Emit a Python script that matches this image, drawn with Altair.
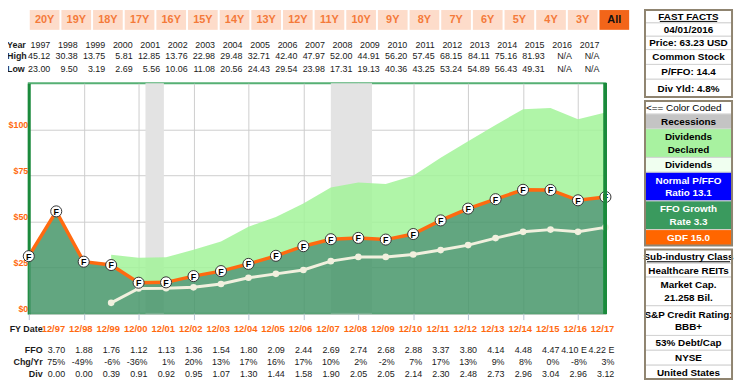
import altair as alt
import pandas as pd

# ---------------- data ----------------
years = list(range(1996, 2018))            # fiscal year ends 12/96 .. 12/17
fy_labels = ["12/97", "12/98", "12/99", "12/00", "12/01", "12/02", "12/03", "12/04",
             "12/05", "12/06", "12/07", "12/08", "12/09", "12/10", "12/11", "12/12",
             "12/13", "12/14", "12/15", "12/16", "12/17"]
# orange GDF line (FFO x 15), one value per fiscal year 1996..2017
ffo_line = [31.2, 55.5, 28.2, 26.4, 16.8, 17.0, 20.4, 23.1, 27.0, 31.4, 36.6,
            40.4, 41.1, 40.2, 43.2, 50.6, 57.0, 62.1, 67.2, 67.1, 61.5, 63.3]
# light green "dividends declared" top edge, 1999..2017
declared_top = [32.0, 30.4, 30.6, 34.7, 39.2, 47.2, 52.5, 59.7, 68.5, 71.2,
                70.3, 74.8, 84.6, 93.5, 102.4, 110.9, 111.6, 105.4, 109.1]
# white dividends line, 1999..2017
div_line = [5.9, 13.7, 13.8, 14.3, 16.1, 19.5, 21.6, 23.7, 28.5, 30.8,
            30.8, 32.1, 34.5, 37.2, 41.0, 44.4, 45.6, 44.4, 46.8]
# recessions (in fiscal-year-end units: Dec of year Y == Y)
rec_start = [2000.25, 2007.0]
rec_end = [2000.92, 2008.5]

tbl_years = [str(y) for y in range(1997, 2018)]
tbl_high = ["45.12", "30.38", "13.75", "5.81", "12.85", "13.76", "22.98", "29.48", "32.71",
            "42.40", "47.97", "52.00", "44.91", "56.20", "57.45", "68.15", "84.11", "75.16",
            "81.93", "N/A", "N/A"]
tbl_low = ["23.00", "9.50", "3.19", "2.69", "5.56", "10.06", "11.08", "20.56", "24.43",
           "29.54", "23.98", "17.31", "19.13", "40.36", "43.25", "53.24", "54.89", "56.43",
           "49.31", "N/A", "N/A"]
tbl_ffo = ["3.70", "1.88", "1.76", "1.12", "1.13", "1.36", "1.54", "1.80", "2.09", "2.44",
           "2.69", "2.74", "2.68", "2.88", "3.37", "3.80", "4.14", "4.48", "4.47", "4.10 E",
           "4.22 E"]
tbl_chg = ["75%", "-49%", "-6%", "-36%", "1%", "20%", "13%", "17%", "16%", "17%", "10%",
           "2%", "-2%", "7%", "17%", "13%", "9%", "8%", "0%", "-8%", "3%"]
tbl_div = ["0.00", "0.00", "0.39", "0.91", "0.92", "0.95", "1.07", "1.30", "1.44", "1.58",
           "1.90", "2.05", "2.05", "2.14", "2.30", "2.48", "2.73", "2.96", "3.04", "2.96",
           "3.12"]
buttons = ["20Y", "19Y", "18Y", "17Y", "16Y", "15Y", "14Y", "13Y", "12Y", "11Y", "10Y",
           "9Y", "8Y", "7Y", "6Y", "5Y", "4Y", "3Y", "All"]

# ---------------- tables for the library ----------------
main = pd.DataFrame({"year": years, "ffo": ffo_line})
main["top"] = [None] * 3 + declared_top
main["div"] = [None] * 3 + div_line
decl = main.dropna(subset=["top"])
divd = main.dropna(subset=["div"])
rec = pd.DataFrame({"s": rec_start, "e": rec_end})
tbl = pd.DataFrame({"year": list(range(1997, 2018)), "yr": tbl_years, "hi": tbl_high,
                    "lo": tbl_low, "fy": fy_labels, "ffo": tbl_ffo, "chg": tbl_chg,
                    "dv": tbl_div})

ORANGE = "#ff6a10"
FONT = "Liberation Sans"

xs = alt.Scale(domain=[1996, 2017], nice=False, zero=False)
ys = alt.Scale(domain=[0, 125], nice=False)
x_axis = alt.Axis(values=years, grid=True, gridColor="#cdcdcd", labels=False, ticks=True,
                  tickColor="#b4c2d2", tickSize=6, domain=False, title=None)
x_enc = alt.X("year:Q", scale=xs, axis=x_axis)
y_axis = alt.Axis(values=[0, 25, 50, 75, 100], grid=True, gridColor="#cdcdcd",
                  labelExpr="'$' + datum.value", labelColor=ORANGE, labelFont=FONT,
                  labelFontWeight="bold", labelFontSize=9, labelOffset=-5, labelPadding=1,
                  ticks=False, domain=True, domainColor="#1b8a3c", domainWidth=3, title=None)

base = alt.Chart(main)

recess = alt.Chart(rec).mark_rect(color="#e3e3e3").encode(
    x=alt.X("s:Q", scale=xs, axis=x_axis), x2="e:Q",
    y=alt.Y("y0:Q", scale=ys, axis=y_axis), y2="y1:Q"
).transform_calculate(y0="125", y1="0")

light = alt.Chart(decl).mark_area(color="#a2f399", opacity=0.85).encode(
    x=x_enc, y=alt.Y("top:Q", scale=ys, axis=y_axis), y2="ffo:Q")

dark = base.mark_area(color="#46966a", opacity=0.85).encode(
    x=x_enc, y=alt.Y("ffo:Q", scale=ys, axis=y_axis), y2=alt.datum(0))

orange_line = base.mark_line(color=ORANGE, strokeWidth=3.5).encode(
    x=x_enc, y=alt.Y("ffo:Q", scale=ys, axis=y_axis))

white_line = alt.Chart(divd).mark_line(color="#f1f0de", strokeWidth=3,
    point=alt.OverlayMarkDef(filled=True, color="#f1f0de", size=45)).encode(
    x=x_enc, y=alt.Y("div:Q", scale=ys, axis=y_axis))

f_pts = base.mark_point(filled=True, fill="white", stroke="#333333", strokeWidth=1,
                        size=125, opacity=1).encode(
    x=x_enc, y=alt.Y("ffo:Q", scale=ys, axis=y_axis))
f_txt = base.mark_text(text="F", font=FONT, fontWeight="bold", fontSize=9,
                       color="black", dy=0.5).encode(
    x=x_enc, y=alt.Y("ffo:Q", scale=ys, axis=y_axis))

right_border = alt.Chart(main).mark_rule(color="#1b8a3c", strokeWidth=3).encode(
    x=alt.datum(2017, scale=xs), y=alt.value(0), y2=alt.value(233))

layers = [recess, light, dark, orange_line, white_line, f_pts, f_txt, right_border]

# ---------------- top and bottom tables ----------------
def row(field, ypix, dx, color="#1a1a1a", weight="normal", size=9):
    return alt.Chart(tbl).mark_text(align="right", baseline="middle", font=FONT,
                                    fontSize=size, fontWeight=weight, color=color,
                                    dx=dx).encode(
        x=alt.X("year:Q", scale=xs), y=alt.value(ypix), text=f"{field}:N")

TY = [-38.5, -27, -14]
BY = [248.5, 270, 282, 294.5]
layers += [row("yr", TY[0], -6), row("hi", TY[1], -6), row("lo", TY[2], -6),
           row("fy", BY[0], 9, color=ORANGE, weight="bold", size=9.5),
           row("ffo", BY[1], 9), row("chg", BY[2], 9), row("dv", BY[3], 9)]

def label(txt, xpix, ypix, align):
    return alt.Chart(main).mark_text(align=align, baseline="middle", font=FONT,
                                     fontSize=9, fontWeight="bold", color="#1a1a1a",
                                     text=txt).encode(
        x=alt.value(xpix), y=alt.value(ypix)).transform_filter("datum.year == 1996")

layers += [label("Year", -22, TY[0], "left"), label("High", -22, TY[1], "left"),
           label("Low", -22, TY[2], "left"), label("FY Date", 14, BY[0], "right"),
           label("FFO", 14, BY[1], "right"), label("Chg/Yr", 14, BY[2], "right"),
           label("Div", 14, BY[3], "right")]

# ---------------- range buttons ----------------
btn = pd.DataFrame({"b": buttons})
btn["x0"] = [1 + 32 * k for k in range(len(buttons))]
btn["x1"] = btn["x0"] + 30
btn["xc"] = btn["x0"] + 15
btn["fill"] = ["#fddcca"] * (len(buttons) - 1) + ["#f26519"]
btn["tc"] = ["#f47a3a"] * (len(buttons) - 1) + ["#111111"]
layers.append(alt.Chart(btn).mark_rect().encode(
    x=alt.X("x0:Q", scale=None), x2="x1:Q", y=alt.value(-74), y2=alt.value(-54),
    fill=alt.Fill("fill:N", scale=None)))
layers.append(alt.Chart(btn).mark_text(font=FONT, fontSize=11, fontWeight="bold",
                                       baseline="middle").encode(
    x=alt.X("xc:Q", scale=None), y=alt.value(-63.5), text="b:N",
    color=alt.Color("tc:N", scale=None)))

# ---------------- right-hand panel ----------------
panel_rows = [
    ("FAST FACTS", -74, -61, "white", "black"),
    ("04/01/2016", -61, -47.5, "white", "black"),
    ("Price: 63.23 USD", -47.5, -34, "white", "black"),
    ("Common Stock", -34, -19, "white", "black"),
    ("P/FFO: 14.4", -19, -4, "white", "black"),
    ("Div Yld: 4.8%", -4, 14, "white", "black"),
    ("Recessions", 31, 46, "#c4c4c4", "black"),
    ("Dividends\nDeclared", 46, 75, "#a8f2a0", "black"),
    ("Dividends", 75, 90, "#f0fff0", "black"),
    ("Normal P/FFO\nRatio 13.1", 90, 119, "#0000ff", "white"),
    ("FFO Growth\nRate 3.3", 119, 148, "#3a9a5e", "white"),
    ("GDF 15.0", 148, 164, "#ff6600", "white"),
    ("Sub-industry Class", 168, 182, "white", "black"),
    ("Healthcare REITs", 182, 196, "white", "black"),
    ("Market Cap.\n21.258 Bil.", 196, 225, "white", "black"),
    ("S&P Credit Rating:\nBBB+", 225, 255, "white", "black"),
    ("53% Debt/Cap", 255, 270, "white", "black"),
    ("NYSE", 270, 285, "white", "black"),
    ("United States", 285, 299, "white", "black"),
]
LH = 13
pdf = pd.DataFrame(panel_rows, columns=["t", "y0", "y1", "fill", "tc"])
pdf["yc"] = [(a + b) / 2 + 0.5 - (t.count("\n")) * LH / 2
             for t, a, b in zip(pdf["t"], pdf["y0"], pdf["y1"])]
layers.append(alt.Chart(pdf).mark_rect(stroke="#d2d2d2", strokeWidth=1).encode(
    x=alt.value(623), x2=alt.value(711), y=alt.Y("y0:Q", scale=None), y2="y1:Q",
    fill=alt.Fill("fill:N", scale=None)))
layers.append(alt.Chart(pdf).mark_text(font=FONT, fontSize=10, fontWeight="bold",
                                       baseline="middle", lineBreak="\n",
                                       lineHeight=LH).encode(
    x=alt.value(667), y=alt.Y("yc:Q", scale=None), text="t:N",
    color=alt.Color("tc:N", scale=None)))
# "<== Color Coded" header row
layers.append(alt.Chart(main).mark_rect(fill="white", stroke="#d2d2d2").encode(
    x=alt.value(623), x2=alt.value(711), y=alt.value(18), y2=alt.value(31)
).transform_filter("datum.year == 1996"))
layers.append(alt.Chart(main).mark_text(font=FONT, fontSize=10, align="left",
                                        baseline="middle", color="black",
                                        text="<== Color Coded").encode(
    x=alt.value(624), y=alt.value(25)).transform_filter("datum.year == 1996"))
# underlines
layers.append(alt.Chart(main).mark_rule(color="black", strokeWidth=1).encode(
    x=alt.value(638), x2=alt.value(696), y=alt.value(-62.5)
).transform_filter("datum.year == 1996"))
layers.append(alt.Chart(main).mark_rule(color="black", strokeWidth=1).encode(
    x=alt.value(625), x2=alt.value(709), y=alt.value(180.5)
).transform_filter("datum.year == 1996"))
# box outlines
boxes = pd.DataFrame({"y0": [-74, 18, 168], "y1": [14, 164, 299]})
layers.append(alt.Chart(boxes).mark_rect(fill=None, stroke="#8f8470", strokeWidth=2,
                                         fillOpacity=0).encode(
    x=alt.value(623), x2=alt.value(711), y=alt.Y("y0:Q", scale=None), y2="y1:Q"))

chart = alt.layer(*layers).properties(
    width=583, height=233,
    autosize=alt.AutoSizeParams(type="none"),
    padding={"left": 21, "top": 74, "right": 131, "bottom": 67},
    background="white",
).configure_view(stroke="#56b074", strokeWidth=2)

chart.save("out.html", embed_options={"renderer": "svg", "actions": False})
